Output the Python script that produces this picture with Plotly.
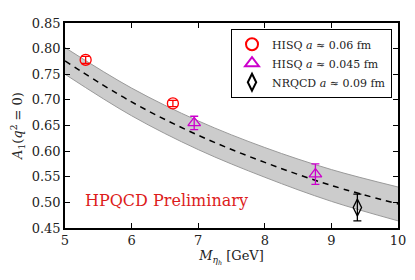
import plotly.graph_objects as go

# Fit curve
fit_x = [5, 6, 7, 8, 9, 10]
fit_y = [0.776, 0.696, 0.631, 0.578, 0.533, 0.497]
fit_err = [0.026, 0.027, 0.028, 0.029, 0.031, 0.033]

# Data points
hisq06_x = [5.31, 6.62]
hisq06_y = [0.778, 0.693]
hisq06_e = [0.007, 0.006]

hisq045_x = [6.94, 8.76]
hisq045_y = [0.655, 0.555]
hisq045_e = [0.013, 0.020]

nrqcd_x = [9.39]
nrqcd_y = [0.490]
nrqcd_e = [0.026]

FONT = "DejaVu Serif, Liberation Serif, serif"

fig = go.Figure()
upper = [y + e for y, e in zip(fit_y, fit_err)]
lower = [y - e for y, e in zip(fit_y, fit_err)]
fig.add_trace(go.Scatter(x=fit_x, y=upper, mode="lines", line=dict(color="#9a9a9a", width=1, shape="spline"),
                         showlegend=False, hoverinfo="skip"))
fig.add_trace(go.Scatter(x=fit_x, y=lower, mode="lines", line=dict(color="#9a9a9a", width=1, shape="spline"),
                         fill="tonexty", fillcolor="rgba(170,170,170,0.6)", showlegend=False, hoverinfo="skip"))
fig.add_trace(go.Scatter(x=fit_x, y=fit_y, mode="lines", line=dict(color="black", width=1.5, dash="6px,5px", shape="spline"),
                         showlegend=False, hoverinfo="skip"))

def pts(x, y, e, color, symbol, name, size):
    return go.Scatter(x=x, y=y, mode="markers", name=name,
                      marker=dict(symbol=symbol, size=size, color=color, line=dict(width=1.3, color=color)),
                      error_y=dict(type="data", array=e, color=color, thickness=1.3, width=4))

fig.add_trace(pts(hisq06_x, hisq06_y, hisq06_e, "#ff0000", "circle-open", "HISQ <i>a</i> ≈ 0.06 fm", 11))
fig.add_trace(pts(hisq045_x, hisq045_y, hisq045_e, "#cc00cc", "triangle-up-open", "HISQ <i>a</i> ≈ 0.045 fm", 11))
fig.add_trace(pts(nrqcd_x, nrqcd_y, nrqcd_e, "black", "diamond-tall-open", "NRQCD <i>a</i> ≈ 0.09 fm", 12))

fig.add_annotation(x=6.53, y=0.503, xref="x", yref="y", text="HPQCD Preliminary", showarrow=False,
                   font=dict(family=FONT, size=16, color="#dd1c1c"))

axis_common = dict(showgrid=False, zeroline=False, ticks="inside", ticklen=5, tickwidth=1,
                   tickcolor="black", showline=True, linecolor="black", linewidth=1.5, mirror="ticks",
                   tickfont=dict(family=FONT, size=13, color="#222"))
fig.update_xaxes(range=[5, 10], dtick=1, title=dict(text="<i>M</i><sub><i>η<sub>h</sub></i></sub> [GeV]",
                 font=dict(family=FONT, size=13, color="#222"), standoff=4), **axis_common)
fig.update_yaxes(range=[0.45, 0.85], dtick=0.05, tickformat=".2f",
                 title=dict(text="<i>A</i><sub>1</sub>(<i>q</i><sup>2</sup> = 0)",
                            font=dict(family=FONT, size=13, color="#222"), standoff=6), **axis_common)

fig.update_layout(width=407, height=272, margin=dict(l=57, r=17, t=8, b=52),
                  plot_bgcolor="white", paper_bgcolor="white",
                  legend=dict(x=0.982, y=0.972, xanchor="right", yanchor="top", bordercolor="black", borderwidth=1,
                              bgcolor="white", font=dict(family=FONT, size=11, color="#222"),
                              traceorder="normal", tracegroupgap=0, itemsizing="constant"))
fig.write_html("out.html")
